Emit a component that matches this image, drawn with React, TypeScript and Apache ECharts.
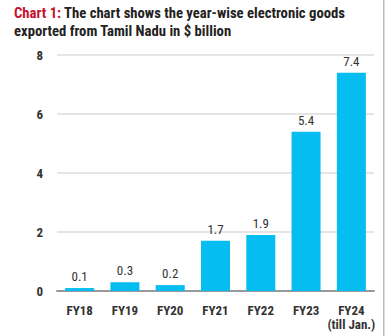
import React, { useEffect, useRef } from "react";
import * as echarts from "echarts";

const categories = ["FY18", "FY19", "FY20", "FY21", "FY22", "FY23", "FY24\n(till Jan.)"];
const values = [0.1, 0.3, 0.2, 1.7, 1.9, 5.4, 7.4];
const yTicks = [0, 2, 4, 6, 8];
const titleLabel = "Chart 1:";
const titleText = " The chart shows the year-wise electronic goods";
const titleText2 = "exported from Tamil Nadu in $ billion";

const FONT = "'Liberation Sans Narrow', 'Roboto Condensed', 'Open Sans', sans-serif";

export default function App() {
  const ref = useRef<HTMLDivElement>(null);
  useEffect(() => {
    const chart = echarts.init(ref.current!, null, { renderer: "svg" });
    chart.setOption({
      animation: false,
      backgroundColor: "#ffffff",
      graphic: [
        {
          type: "text",
          left: 14,
          top: 5,
          style: {
            text: `{r|${titleLabel}}{b|${titleText}}\n{b|${titleText2}}`,
            rich: {
              r: { fill: "#c8102e", fontWeight: "bold", fontSize: 14.7, fontFamily: FONT, lineHeight: 18 },
              b: { fill: "#222", fontWeight: "bold", fontSize: 14.7, fontFamily: FONT, lineHeight: 18 },
            },
          },
        },
        {
          type: "rect",
          shape: { x: 383, y: 0, width: 1.5, height: 336 },
          style: { fill: "#bbbbbb" },
        },
      ],
      grid: { left: 57, right: 14, top: 55, bottom: 45 },
      xAxis: {
        type: "category",
        data: categories,
        axisLine: { show: true, lineStyle: { color: "#999", width: 2 } },
        axisTick: { show: false },
        axisLabel: {
          color: "#333",
          fontSize: 13,
          fontFamily: FONT,
          fontWeight: "bold",
          lineHeight: 14,
          margin: 12,
          interval: 0,
        },
      },
      yAxis: {
        type: "value",
        min: yTicks[0],
        max: yTicks[yTicks.length - 1],
        interval: 2,
        axisLine: { show: false },
        axisTick: { show: false },
        splitLine: { lineStyle: { color: "#dddddd", width: 1.5 } },
        axisLabel: { color: "#333", fontSize: 13, fontFamily: FONT, fontWeight: "bold", margin: 14 },
      },
      series: [
        {
          type: "bar",
          data: values,
          barWidth: 29,
          itemStyle: { color: "#05bdf0" },
          label: {
            show: true,
            position: "top",
            distance: 5,
            color: "#333",
            fontSize: 13,
            fontFamily: FONT,
            formatter: (p: any) => p.value.toFixed(1),
          },
        },
      ],
    });
    return () => chart.dispose();
  }, []);
  return <div ref={ref} style={{ width: 388, height: 336, position: "absolute", left: 0, top: 0 }} />;
}
